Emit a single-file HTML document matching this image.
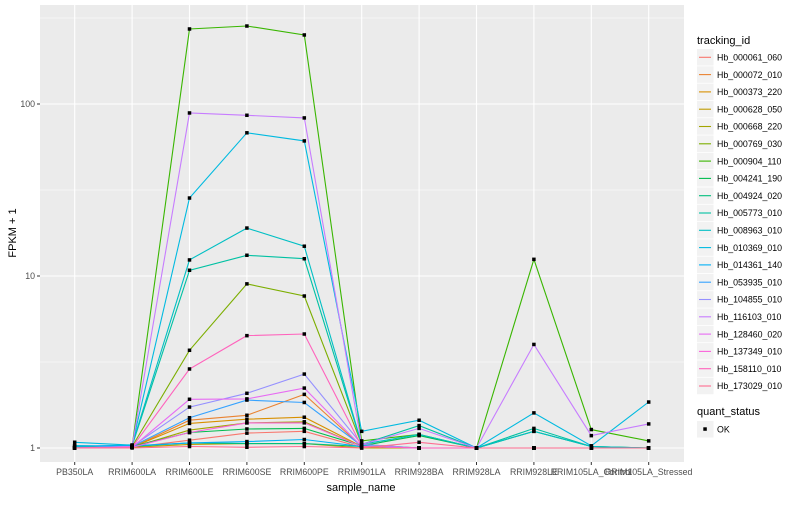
<!DOCTYPE html>
<html><head><meta charset="utf-8"><style>
body{margin:0;background:#fff;font-family:"Liberation Sans",sans-serif}
svg text{font-family:"Liberation Sans",sans-serif}
</style></head><body>
<svg id="chart" width="800" height="500" xmlns="http://www.w3.org/2000/svg">
<rect width="800" height="500" fill="#fff"/>
<rect x="40" y="5" width="644" height="457" fill="#EBEBEB"/>
<g id="grid"></g><g id="series"></g><g id="points"></g><g id="axes"></g><g id="legend"></g>
<text x="361" y="491" font-size="11" text-anchor="middle">sample_name</text>
<text x="16" y="233" font-size="11" text-anchor="middle" transform="rotate(-90 16 233)">FPKM + 1</text>
</svg>
<script>
const categories=["PB350LA","RRIM600LA","RRIM600LE","RRIM600SE","RRIM600PE","RRIM901LA","RRIM928BA","RRIM928LA","RRIM928LE","RRIM105LA_Control","RRIM105LA_Stressed"];
const seriesNames=["Hb_000061_060","Hb_000072_010","Hb_000373_220","Hb_000628_050","Hb_000668_220","Hb_000769_030","Hb_000904_110","Hb_004241_190","Hb_004924_020","Hb_005773_010","Hb_008963_010","Hb_010369_010","Hb_014361_140","Hb_053935_010","Hb_104855_010","Hb_116103_010","Hb_128460_020","Hb_137349_010","Hb_158110_010","Hb_173029_010"];
const seriesColors=["#F8766D","#EA8331","#D89000","#C09B00","#A3A500","#7CAE00","#39B600","#00BB4E","#00BF7D","#00C1A3","#00BFC4","#00BAE0","#00B0F6","#35A2FF","#9590FF","#C77CFF","#E76BF3","#FA62DB","#FF62BC","#FF6C91"];
const s000061=[1.02,1.01,1.11,1.22,1.25,1.01,1.0,1.0,1.0,1.0,1.0];
const s000072=[1.0,1.01,1.45,1.55,2.05,1.02,1.0,1.0,1.0,1.0,1.0];
const s000373=[1.0,1.01,1.39,1.47,1.51,1.02,1.0,1.0,1.0,1.0,1.0];
const s000628=[1.0,1.01,1.05,1.06,1.06,1.0,1.0,1.0,1.0,1.0,1.0];
const s000668=[1.0,1.01,1.27,1.40,1.42,1.02,1.0,1.0,1.0,1.0,1.0];
const s000769=[1.0,1.02,3.7,9.0,7.65,1.05,1.0,1.0,1.0,1.0,1.0];
const s000904=[1.0,1.02,273,284,252,1.1,1.2,1.0,12.5,1.28,1.1];
const s004241=[1.03,1.02,1.23,1.29,1.30,1.03,1.18,1.0,1.25,1.02,1.0];
const s004924=[1.03,1.02,1.07,1.06,1.06,1.02,1.0,1.0,1.0,1.0,1.0];
const s005773=[1.02,1.03,10.8,13.2,12.6,1.05,1.35,1.0,1.3,1.02,1.0];
const s008963=[1.02,1.04,12.4,19.0,14.9,1.05,1.2,1.0,1.25,1.02,1.0];
const s010369=[1.08,1.04,28.4,68,61,1.25,1.45,1.0,1.6,1.03,1.85];
const s014361=[1.03,1.03,1.07,1.09,1.12,1.02,1.0,1.0,1.0,1.0,1.0];
const s053935=[1.0,1.02,1.50,1.90,1.84,1.03,1.0,1.0,1.0,1.0,1.0];
const s104855=[1.0,1.02,1.73,2.08,2.69,1.05,1.0,1.0,1.0,1.0,1.0];
const s116103=[1.0,1.02,88.7,86,83,1.05,1.3,1.0,4.0,1.18,1.38];
const s128460=[1.0,1.01,1.92,1.93,2.23,1.02,1.0,1.0,1.0,1.0,1.0];
const s137349=[1.0,1.01,1.23,1.40,1.40,1.02,1.0,1.0,1.0,1.0,1.0];
const s158110=[1.0,1.01,2.88,4.5,4.6,1.02,1.0,1.0,1.0,1.0,1.0];
const s173029=[1.0,1.0,1.02,1.01,1.02,1.0,1.08,1.0,1.0,1.0,1.0];
const seriesValues=[s000061,s000072,s000373,s000628,s000668,s000769,s000904,s004241,s004924,s005773,s008963,s010369,s014361,s053935,s104855,s116103,s128460,s137349,s158110,s173029];
const yTicks=[1,10,100];
const yTickLabels=["1","10","100"];

const NS="http://www.w3.org/2000/svg";
function mk(tag,attrs,parent){const e=document.createElementNS(NS,tag);for(const k in attrs)e.setAttribute(k,attrs[k]);parent.appendChild(e);return e;}
function xScale(i){return 74.7+i*57.4;}
function yScale(v){return 448-172*Math.log10(v);}
const grid=document.getElementById('grid'),ser=document.getElementById('series'),pts=document.getElementById('points'),axes=document.getElementById('axes'),leg=document.getElementById('legend');
yTicks.forEach(t=>{const ym=yScale(t*Math.sqrt(10));if(ym>5){const g=mk('line',{x1:40,x2:684,y1:ym,y2:ym,stroke:'#fff','stroke-width':0.5},grid);}});
yTicks.forEach((t,i)=>{const y=yScale(t);
 const g=mk('line',{x1:40,x2:684,y1:y,y2:y,stroke:'#fff','stroke-width':1.1},grid);
 
 const tk=mk('line',{x1:37,x2:40,y1:y,y2:y,stroke:'#333','stroke-width':1},axes);
 
 const tx=mk('text',{x:35,y:y+3,'font-size':8.8,'text-anchor':'end',fill:'#4d4d4d'},axes);tx.textContent=yTickLabels[i];
 });
categories.forEach((c,i)=>{const x=xScale(i);
 const g=mk('line',{x1:x,x2:x,y1:5,y2:462,stroke:'#fff','stroke-width':1.1},grid);
 
 const tk=mk('line',{x1:x,x2:x,y1:462,y2:465,stroke:'#333','stroke-width':1},axes);
 
 const tx=mk('text',{x:x,y:475,'font-size':8.8,'text-anchor':'middle',fill:'#4d4d4d'},axes);tx.textContent=c;
 });
seriesValues.forEach((vals,si)=>{
 const d=vals.map((v,i)=>(i?'L':'M')+xScale(i).toFixed(1)+','+yScale(v).toFixed(1)).join(' ');
 const p=mk('path',{d:d,fill:'none',stroke:seriesColors[si],'stroke-width':1.1},ser);
 
 
 vals.forEach((v,i)=>{const r=mk('rect',{x:xScale(i)-1.75,y:yScale(v)-1.75,width:3.5,height:3.5,fill:'#000'},pts);
  });
});
const lt=mk('text',{x:697,y:44,'font-size':11},leg);lt.textContent='tracking_id';

seriesNames.forEach((n,i)=>{const y=49+i*17.3;
 const g=mk('g',{},leg);
 mk('rect',{x:697,y:y,width:16.5,height:16.5,fill:'#F2F2F2'},g);
 mk('line',{x1:699,x2:711,y1:y+8.3,y2:y+8.3,stroke:seriesColors[i],'stroke-width':1.1},g);
 const t=mk('text',{x:717,y:y+11.5,'font-size':8.8},g);t.textContent=n;});
const qt=mk('text',{x:697,y:415,'font-size':11},leg);qt.textContent='quant_status';

const qg=mk('g',{},leg);
mk('rect',{x:697,y:421,width:16.5,height:16.5,fill:'#F2F2F2'},qg);
mk('rect',{x:703.3,y:427.3,width:3.5,height:3.5,fill:'#000'},qg);
const ok=mk('text',{x:717,y:432.5,'font-size':8.8},qg);ok.textContent='OK';
</script>
</body></html>
